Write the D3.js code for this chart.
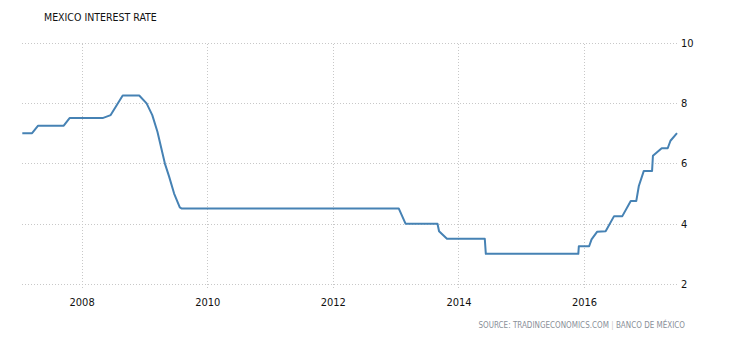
<!DOCTYPE html>
<html>
<head>
<meta charset="utf-8">
<script src="https://cdn.jsdelivr.net/npm/d3@7"></script>
<style>
  body { margin: 0; background: #fff; }
  svg text { font-family: Tahoma, "DejaVu Sans Condensed", "Liberation Sans Narrow", "Liberation Sans", Arial, sans-serif; }
  .grid line { stroke: #c8c8c8; stroke-dasharray: 1,2; shape-rendering: crispEdges; }
  .tick text { fill: #111; font-size: 11px; }
</style>
</head>
<body>
<div id="chart"></div>
<script>
// rate changes as drawn (date of each vertex, % rate)
var dates = ["2007-01-21", "2007-03-19", "2007-04-23", "2007-09-19", "2007-10-23",
  "2008-05-02", "2008-06-18", "2008-08-27", "2008-12-01",
  "2009-01-13", "2009-02-15", "2009-03-17", "2009-04-29", "2009-05-24", "2009-06-22", "2009-07-25", "2009-08-06",
  "2013-01-19", "2013-02-27", "2013-09-01", "2013-09-10", "2013-10-26",
  "2014-06-03", "2014-06-09",
  "2015-11-29", "2015-12-02",
  "2016-01-31", "2016-02-14", "2016-03-17", "2016-05-06", "2016-06-24", "2016-08-11", "2016-09-29", "2016-10-31", "2016-11-15", "2016-12-14",
  "2017-01-31", "2017-02-05", "2017-03-28", "2017-05-02", "2017-05-18", "2017-06-25"];
var rates = [7.00, 7.00, 7.25, 7.25, 7.50,
  7.50, 7.60, 8.25, 8.25,
  7.99, 7.60, 7.05, 6.00, 5.56, 5.00, 4.54, 4.50,
  4.50, 4.00, 4.00, 3.75, 3.50,
  3.50, 3.00,
  3.00, 3.25,
  3.25, 3.48, 3.73, 3.75, 4.25, 4.25, 4.75, 4.75, 5.25, 5.75,
  5.75, 6.25, 6.50, 6.50, 6.75, 7.00];
var yTicks = [2, 4, 6, 8, 10];

var title = "MEXICO INTEREST RATE";
var source = "SOURCE: TRADINGECONOMICS.COM";
var source2 = "BANCO DE MÉXICO";

var width = 730, height = 340;
var margin = {top: 42.7, right: 53, bottom: 56, left: 22.3};

var parse = d3.utcParse("%Y-%m-%d");
var data = dates.map((d, i) => ({date: parse(d), value: rates[i]}));

var svg = d3.select("#chart").append("svg")
    .attr("width", width)
    .attr("height", height);

var x = d3.scaleUtc()
    .domain(d3.extent(data, d => d.date))
    .range([margin.left, width - margin.right]);

var y = d3.scaleLinear()
    .domain([2, 10])
    .range([height - margin.bottom, margin.top]);

// vertical grid + year labels
var xAxis = d3.axisBottom(x)
    .ticks(d3.utcYear.every(2))
    .tickFormat(d3.utcFormat("%Y"))
    .tickSize(-(y(2) - y(10)) - 4)
    .tickPadding(10);

svg.append("g")
    .attr("class", "grid xgrid")
    .attr("transform", `translate(0, ${y(2) + 4})`)
    .call(xAxis)
    .call(g => g.select(".domain").remove());

// horizontal grid + labels on the right
var yAxis = d3.axisRight(y)
    .tickValues(yTicks)
    .tickSize(-(x.range()[1] - x.range()[0]))
    .tickPadding(4);

svg.append("g")
    .attr("class", "grid ygrid")
    .attr("transform", `translate(${x.range()[1]}, 0)`)
    .call(yAxis)
    .call(g => g.select(".domain").remove());

var line = d3.line()
    .x(d => x(d.date))
    .y(d => y(d.value));

svg.append("path")
    .datum(data)
    .attr("fill", "none")
    .attr("stroke", "#4682b4")
    .attr("stroke-width", 2)
    .attr("stroke-linejoin", "round")
    .attr("d", line);

svg.append("text")
    .attr("x", 44)
    .attr("y", 21)
    .style("font-size", "10.5px")
    .style("fill", "#111")
    .text(title);

var src = svg.append("text")
    .attr("x", 685)
    .attr("y", 328)
    .attr("text-anchor", "end")
    .style("font-size", "8px")
    .style("fill", "#8a8f99");
src.append("tspan").text(source);
src.append("tspan").style("fill", "#c8c8c8").text(" | ");
src.append("tspan").text(source2);
</script>
</body>
</html>
